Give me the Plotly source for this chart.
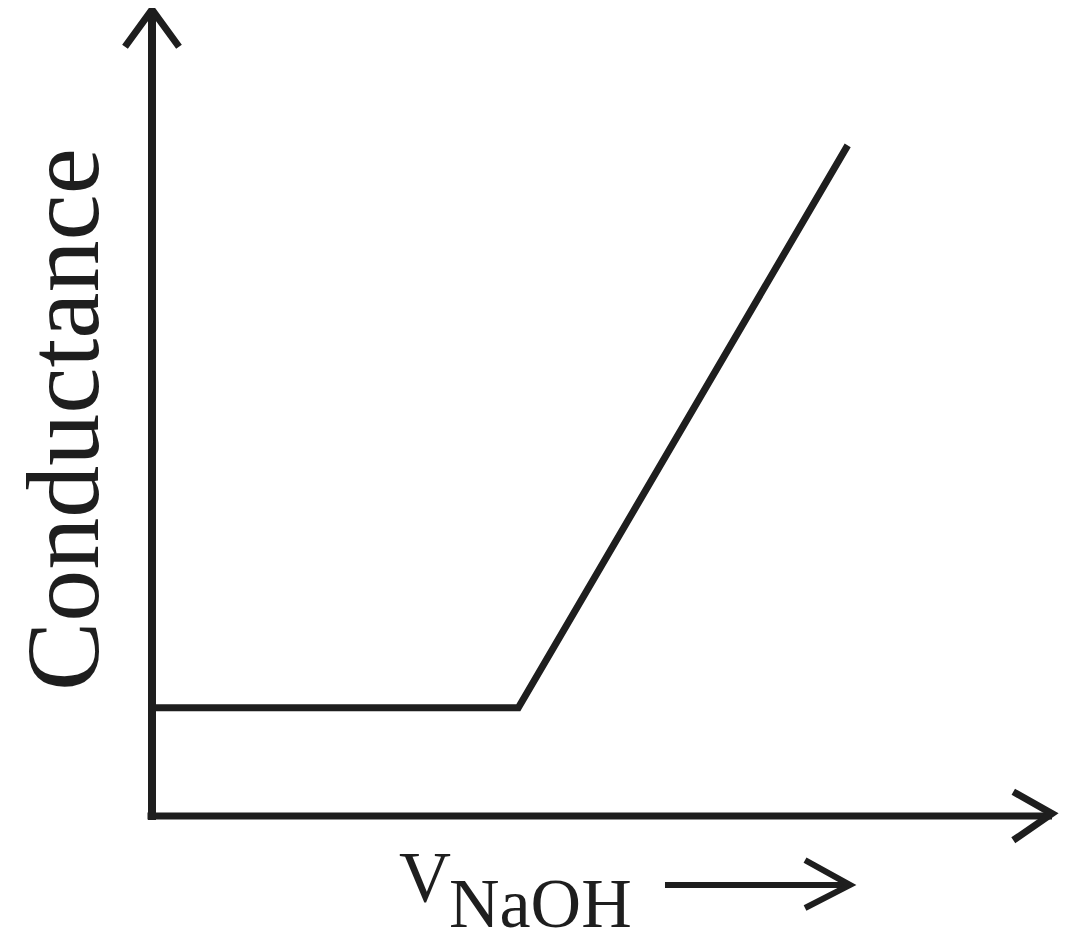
import plotly.graph_objects as go

# Data (arbitrary units)
v_naoh = [0.0, 4.07, 7.73]
conductance = [1.34, 1.34, 8.30]

x_label_main = "V"
x_label_sub = "NaOH"
y_label = "Conductance"

INK = "#1e1e1e"
FONT = "Liberation Serif"

fig = go.Figure()
fig.add_trace(go.Scatter(x=v_naoh, y=conductance, mode="lines",
                         line=dict(color=INK, width=7), hoverinfo="skip",
                         showlegend=False))

shapes = []
def seg(pts, w=7):
    path = "M " + " L ".join(f"{x},{y}" for x, y in pts)
    shapes.append(dict(type="path", path=path, xref="x", yref="y",
                       line=dict(color=INK, width=w), layer="above"))

# axes with arrow heads
seg([(0, -0.05), (0, 9.98)], 8)
seg([(-0.30, 9.52), (0, 9.98), (0.30, 9.52)], 7)
seg([(-0.05, 0), (10.0, 0)], 7)
seg([(9.57, 0.30), (10.0, 0.03), (9.57, -0.30)], 7)
# small arrow after x label
seg([(5.7, -0.854), (7.756, -0.854)], 6)
seg([(7.256, -0.545), (7.756, -0.854), (7.256, -1.139)], 6)

fig.update_layout(
    width=1052, height=920,
    margin=dict(l=0, r=0, t=0, b=0),
    paper_bgcolor="white", plot_bgcolor="white",
    xaxis=dict(range=[-1.6, 10.089], visible=False, fixedrange=True),
    yaxis=dict(range=[-1.386, 10.0], visible=False, fixedrange=True),
    shapes=shapes,
    annotations=[
        dict(x=-1.0, y=4.90, xref="x", yref="y", text=y_label, textangle=-90,
             showarrow=False, font=dict(family=FONT, size=104, color=INK),
             xanchor="center", yanchor="middle"),
        dict(x=3.03, y=-0.75, xref="x", yref="y", text=x_label_main,
             showarrow=False, font=dict(family=FONT, size=72, color=INK),
             xanchor="center", yanchor="middle"),
        dict(x=3.28, y=-1.08, xref="x", yref="y", text=x_label_sub,
             showarrow=False, font=dict(family=FONT, size=70, color=INK),
             xanchor="left", yanchor="middle"),
    ],
)

fig.write_html("out.html")
